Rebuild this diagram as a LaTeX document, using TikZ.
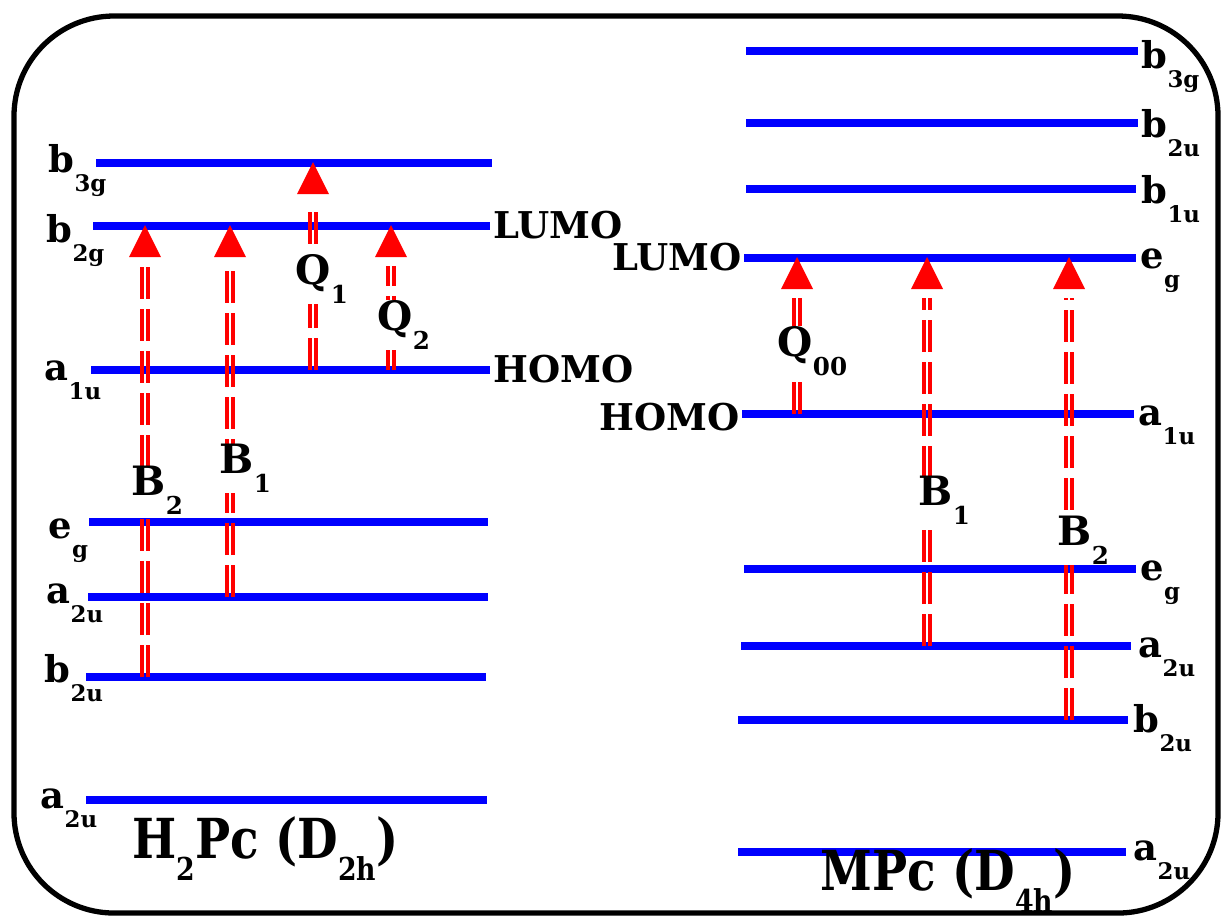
\documentclass[tikz,border=0pt]{standalone}
\usepackage{graphicx}
\usepackage{fontspec}
\setmainfont{DejaVu Serif}

% lowered subscript used in all labels
\newcommand{\lsub}[2][6.5]{\raisebox{-5.6pt}{\fontsize{#1}{#1}\selectfont #2}}
% slightly taller lettering for the two molecule names
\newcommand{\tall}[1]{\scalebox{0.95}[1.12]{#1}}
% dashed double-rail transition with a detached head
\newcommand{\transition}[3]{%
  \coordinate (tx) at (#1,0);
  \draw[rail, transform canvas={xshift=-0.9pt}] (tx |- #2) -- (tx |- #3);
  \draw[rail, transform canvas={xshift=0.9pt}]  (tx |- #2) -- (tx |- #3);
  \fill[red] (tx |- #3) ++(0,-1) -- ++(16,32) -- ++(-32,0) -- cycle;}

\begin{document}
\begin{tikzpicture}[x=0.01cm, y=-0.01cm,
    level/.style={draw=blue, line width=2.3pt},
    lvl/.style={font=\fontsize{10.5}{12}\selectfont\bfseries, inner sep=0pt, anchor=base west},
    lvlr/.style={lvl, anchor=base east},
    trlabel/.style={font=\fontsize{11.5}{13}\selectfont\bfseries, fill=white, inner sep=0pt, anchor=base west},
    rail/.style={draw=red, line width=1.05pt, dash pattern=on 0.32cm off 0.1cm, shorten >=0.4cm},
    title/.style={font=\fontsize{14}{16}\selectfont\bfseries, inner sep=0pt, anchor=base west},
    frame/.style={draw=black, line width=1.5pt, rounded corners=1cm}
  ]
  \useasboundingbox (0,0) rectangle (1222,920);
  \draw[frame] (14,16) rectangle (1218,913);

  % H2Pc levels
  \draw[level] (96,163) coordinate (hb3g) -- (492,163);
  \draw[level] (93,226) coordinate (hb2g) -- (490,226);
  \draw[level] (91,370) coordinate (ha1u) -- (490,370);
  \draw[level] (89,522) coordinate (heg)  -- (488,522);
  \draw[level] (88,597) coordinate (ha2u) -- (488,597);
  \draw[level] (86,677) coordinate (hb2u) -- (486,677);
  \draw[level] (86,800) coordinate (ha2ul) -- (487,800);

  \node[lvl] (thb3g)  at (48,172) {b\lsub{3g}};
  \node[lvl] (thb2g)  at (46,242) {b\lsub{2g}};
  \node[lvl] (tha1u)  at (44,380) {a\lsub{1u}};
  \node[lvl] (theg)   at (48,538) {e\lsub{g}};
  \node[lvl] (tha2u)  at (46,603) {a\lsub{2u}};
  \node[lvl] (thb2u)  at (44,682) {b\lsub{2u}};
  \node[lvl] (tha2ul) at (40,808) {a\lsub{2u}};
  \node[lvl] (hlumo)  at (493,238) {LUMO};
  \node[lvl] (hhomo)  at (493,382) {HOMO};

  % MPc levels
  \draw[level] (746,51)  -- (1138,51)  coordinate (mb3g);
  \draw[level] (746,123) -- (1138,123) coordinate (mb2u);
  \draw[level] (746,189) -- (1136,189) coordinate (mb1u);
  \draw[level] (744,258) coordinate (meg)  -- (1136,258);
  \draw[level] (742,414) coordinate (ma1u) -- (1134,414);
  \draw[level] (744,569) coordinate (megl) -- (1136,569);
  \draw[level] (741,646) coordinate (ma2u) -- (1131,646);
  \draw[level] (738,720) coordinate (mb2ul) -- (1128,720);
  \draw[level] (738,852) coordinate (ma2ul) -- (1126,852);

  \node[lvl] (tmb3g)  at (1141,68)  {b\lsub{3g}};
  \node[lvl] (tmb2u)  at (1141,137) {b\lsub{2u}};
  \node[lvl] (tmb1u)  at (1141,203) {b\lsub{1u}};
  \node[lvl] (tmeg)   at (1140,268) {e\lsub{g}};
  \node[lvl] (tma1u)  at (1138,425) {a\lsub{1u}};
  \node[lvl] (tmegl)  at (1140,580) {e\lsub{g}};
  \node[lvl] (tma2u)  at (1138,657) {a\lsub{2u}};
  \node[lvl] (tmb2ul) at (1133,732) {b\lsub{2u}};
  \node[lvl] (tma2ul) at (1133,860) {a\lsub{2u}};
  \node[lvlr] (mlumo) at (742,270) {LUMO};
  \node[lvlr] (mhomo) at (740,430) {HOMO};

  % transitions
  \transition{145}{hb2u}{hb2g}
  \transition{230}{ha2u}{hb2g}
  \transition{313}{ha1u}{hb3g}
  \transition{391}{ha1u}{hb2g}
  \transition{797}{ma1u}{meg}
  \transition{927}{ma2u}{meg}
  \transition{1069}{mb2ul}{meg}

  \node[trlabel] (lb2)  at (131,495)  {B\lsub[7]{2}};
  \node[trlabel] (lb1)  at (219,473)  {B\lsub[7]{1}};
  \node[trlabel] (lq1)  at (295,284)  {Q\lsub[7]{1}};
  \node[trlabel] (lq2)  at (377,330)  {Q\lsub[7]{2}};
  \node[trlabel] (lq00) at (777,356)  {Q\lsub[7]{00}};
  \node[trlabel] (rb1)  at (918,505)  {B\lsub[7]{1}};
  \node[trlabel] (rb2)  at (1057,545) {B\lsub[7]{2}};

  % molecule titles
  \node[title] (h2pc) at (132,858) {\tall{H\lsub[8]{2}Pc (D\lsub[8]{2h})}};
  \node[title] (mpc)  at (820,890) {\tall{MPc (D\lsub[8]{4h})}};
\end{tikzpicture}
\end{document}
